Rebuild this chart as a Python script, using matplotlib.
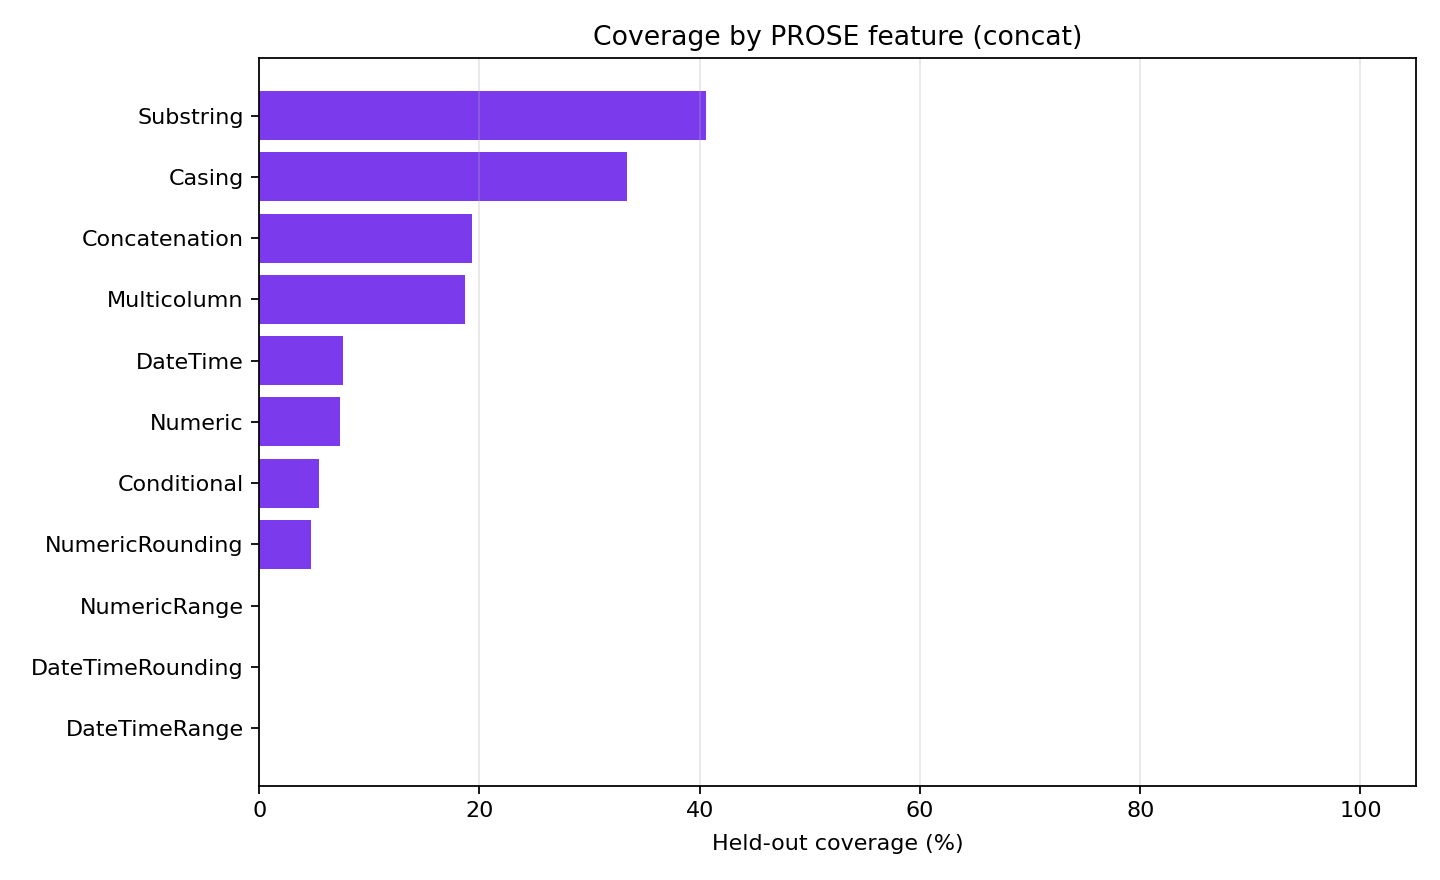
import matplotlib
matplotlib.use("Agg")
import matplotlib.pyplot as plt

# feature coverage (held-out, %)
features = ["Substring", "Casing", "Concatenation", "Multicolumn", "DateTime",
            "Numeric", "Conditional", "NumericRounding", "NumericRange",
            "DateTimeRounding", "DateTimeRange"]
coverage = [40.6, 33.4, 19.3, 18.7, 7.6, 7.3, 5.4, 4.7, 0.0, 0.0, 0.0]

fig, ax = plt.subplots(figsize=(9, 5.5), dpi=160)
ax.barh(features, coverage, color="#7c3aed", height=0.8)
ax.invert_yaxis()
ax.set_xlim(0, 105)
ax.set_xlabel("Held-out coverage (%)", labelpad=5.5)
ax.set_title("Coverage by PROSE feature (concat)")
ax.grid(axis="x", alpha=0.3)
fig.subplots_adjust(left=0.18, right=0.983, top=0.934, bottom=0.107)
fig.savefig("out.png")
